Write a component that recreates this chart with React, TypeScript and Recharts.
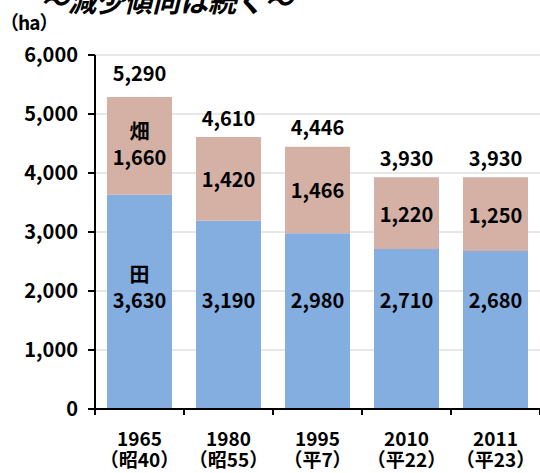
import React from 'react';
import { BarChart, Bar, XAxis, YAxis, CartesianGrid, LabelList } from 'recharts';

// 田・畑の面積 (ha)
const years = ['1965', '1980', '1995', '2010', '2011'];
const eras = ['（昭40）', '（昭55）', '（平7）', '（平22）', '（平23）'];
const paddy = [3630, 3190, 2980, 2710, 2680];
const field = [1660, 1420, 1466, 1220, 1250];
const totals = [5290, 4610, 4446, 3930, 3930];
const yTicks = [0, 1000, 2000, 3000, 4000, 5000, 6000];

const paddyName = '田';
const fieldName = '畑';

const data = years.map((year, i) => ({
  year,
  era: eras[i],
  paddy: paddy[i],
  field: field[i],
}));

const FONT = "'Noto Sans CJK JP', 'Liberation Sans', sans-serif";
const fmt = (v: number) => v.toLocaleString('en-US');

const XTick = (props: any) => {
  const { x, y, payload, index, width, visibleTicksCount } = props;
  const half = (width / visibleTicksCount) / 2;
  const axisY = y - 8;
  return (
    <g>
      <line x1={x - half} x2={x - half} y1={axisY} y2={axisY + 6} stroke="#000" strokeWidth={2} />
      {index === visibleTicksCount - 1 && (
        <line x1={x + half} x2={x + half} y1={axisY} y2={axisY + 6} stroke="#000" strokeWidth={2} />
      )}
      <text x={x} y={axisY + 37} textAnchor="middle" fontFamily={FONT} fontWeight="bold" fontSize={19} fill="#000">
        {payload.value}
      </text>
      <text x={x} y={axisY + 58} textAnchor="middle" fontFamily={FONT} fontWeight="bold" fontSize={19} fill="#000">
        {eras[index]}
      </text>
    </g>
  );
};

const PaddyLabel = (props: any) => {
  const { x, y, width, height, value, index } = props;
  const cx = x + width / 2;
  // 数値は 1,850 ha の高さ付近に置く (元図の配置)
  const numY = y + height - height * (1850 / value);
  return (
    <g fontFamily={FONT} fontWeight="bold" fontSize={20} fill="#000" textAnchor="middle">
      {index === 0 && (
        <text x={cx} y={numY - 26} dominantBaseline="central">{paddyName}</text>
      )}
      <text x={cx} y={numY} dominantBaseline="central">{fmt(value)}</text>
    </g>
  );
};

const FieldLabel = (props: any) => {
  const { x, y, width, height, value, index } = props;
  const cx = x + width / 2;
  const cy = y + height / 2;
  return (
    <g fontFamily={FONT} fontWeight="bold" fontSize={20} fill="#000" textAnchor="middle">
      {index === 0 ? (
        <>
          <text x={cx} y={cy - 15} dominantBaseline="central">{fieldName}</text>
          <text x={cx} y={cy + 11} dominantBaseline="central">{fmt(value)}</text>
        </>
      ) : (
        <text x={cx} y={cy} dominantBaseline="central">{fmt(value)}</text>
      )}
      <text x={cx} y={y - (index === 0 ? 24 : 20)} dominantBaseline="central">{fmt(totals[index])}</text>
    </g>
  );
};

const App: React.FC = () => {
  return (
    <div style={{ position: 'absolute', left: 0, top: 0, width: 540, height: 473, overflow: 'hidden', background: '#fff' }}>
      <div
        style={{
          position: 'absolute', left: 40, top: -20, fontFamily: FONT, fontWeight: 'bold',
          fontStyle: 'italic', fontSize: 28, whiteSpace: 'nowrap', color: '#000',
        }}
      >
        ～減少傾向は続く～
      </div>
      <div
        style={{
          position: 'absolute', left: 0, top: 8, fontFamily: FONT, fontWeight: 'bold',
          fontSize: 19, whiteSpace: 'nowrap', color: '#000', letterSpacing: -1,
        }}
      >
        （ha）
      </div>
      <BarChart
        width={540}
        height={473}
        data={data}
        margin={{ top: 55, right: 0, bottom: 0, left: 0 }}
        barCategoryGap="13.5%"
      >
        <CartesianGrid vertical={false} stroke="#d0d0d0" strokeWidth={1} />
        <XAxis
          dataKey="year"
          axisLine={{ stroke: '#000', strokeWidth: 2 }}
          tickLine={false}
          tick={<XTick />}
          interval={0}
          height={64}
        />
        <YAxis
          width={95}
          domain={[0, 6000]}
          ticks={yTicks}
          tickFormatter={fmt}
          axisLine={{ stroke: '#000', strokeWidth: 2 }}
          tickLine={{ stroke: '#000', strokeWidth: 2 }}
          tickSize={7}
          tickMargin={10}
          tick={{ fontFamily: FONT, fontWeight: 'bold', fontSize: 20, fill: '#000' }}
        />
        <Bar dataKey="paddy" stackId="a" fill="#84ADE0" isAnimationActive={false}>
          <LabelList dataKey="paddy" content={<PaddyLabel />} />
        </Bar>
        <Bar dataKey="field" stackId="a" fill="#D5B0A5" isAnimationActive={false}>
          <LabelList dataKey="field" content={<FieldLabel />} />
        </Bar>
      </BarChart>
    </div>
  );
};

export default App;
